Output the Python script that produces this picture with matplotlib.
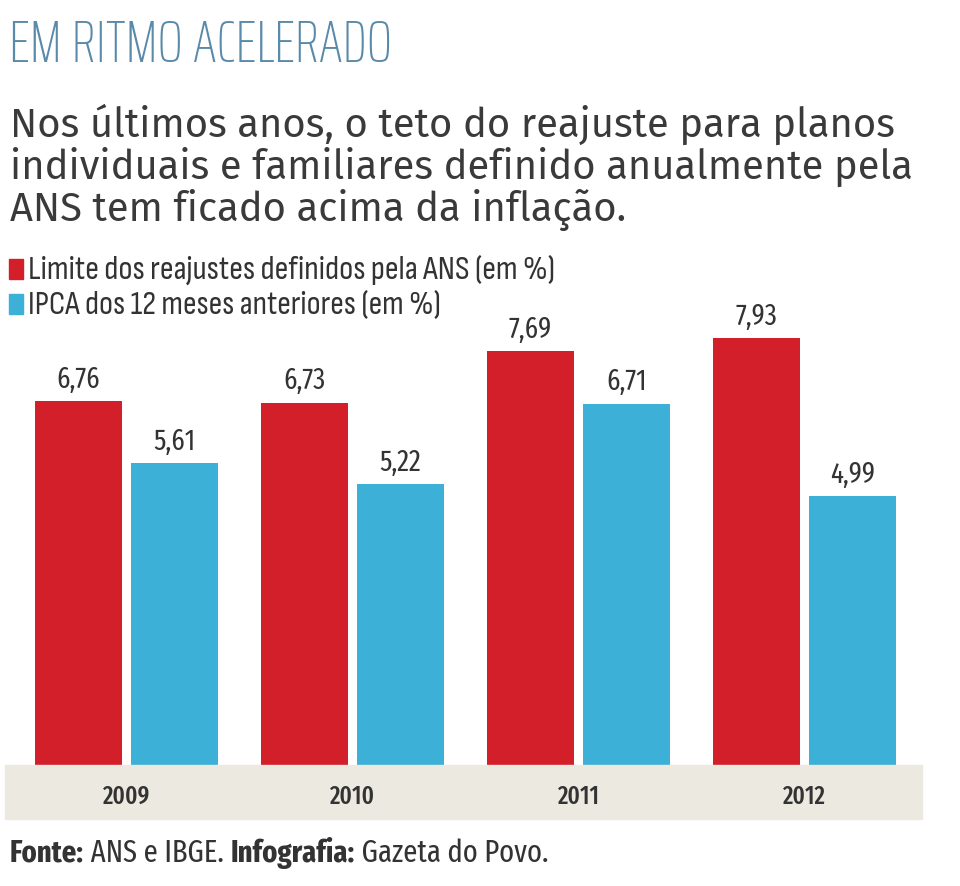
import matplotlib.pyplot as plt
from matplotlib.patches import Rectangle

anos = ["2009", "2010", "2011", "2012"]
ans = [6.76, 6.73, 7.69, 7.93]
ipca = [5.61, 5.22, 6.71, 4.99]
rotulos_ans = ["6,76", "6,73", "7,69", "7,93"]
rotulos_ipca = ["5,61", "5,22", "6,71", "4,99"]

vermelho = "#d31f29"
azul = "#3cb0d7"
cinza = "#333333"
titulo_f = ["Saira ExtraCondensed", "DejaVu Sans"]
estreita = ["Sofia Sans Condensed", "DejaVu Sans"]
numeros = ["Fira Sans Extra Condensed", "DejaVu Sans"]
texto = ["Fira Sans", "DejaVu Sans"]

fig = plt.figure(figsize=(9.6, 8.87), dpi=100)
W, H = 960, 887
renderer = fig.canvas.get_renderer()

def fx(px):
    return px / W

def fy(py):
    return 1 - py / H

def ajusta(t, largura):
    # acerta o tamanho da fonte para a largura medida no original
    bb = t.get_window_extent(renderer=renderer)
    t.set_fontsize(t.get_fontsize() * largura / bb.width)
    return t

# titulo e texto
t = fig.text(fx(9), fy(62), "EM RITMO ACELERADO", family=titulo_f, fontsize=46,
             weight="light", color="#5a8aaa", va="baseline", ha="left")
ajusta(t, 383)
sub = ["Nos últimos anos, o teto do reajuste para planos",
       "individuais e familiares definido anualmente pela",
       "ANS tem ficado acima da inflação."]
linhas = []
for i, linha in enumerate(sub):
    linhas.append(fig.text(fx(10), fy(137 + i * 42), linha, family=texto, fontsize=26,
                           color="#3a3a3a", va="baseline", ha="left"))
bb = linhas[1].get_window_extent(renderer=renderer)
tam = 26 * 905 / bb.width
for l in linhas:
    l.set_fontsize(tam)

# legenda
for py, cor, txt, larg in [(270, vermelho, "Limite dos reajustes definidos pela ANS (em %)", 527),
                           (305, azul, "IPCA dos 12 meses anteriores (em %)", 412)]:
    fig.patches.append(Rectangle((fx(9), fy(py + 10)), fx(14), 20 / H,
                                 transform=fig.transFigure, color=cor))
    t = fig.text(fx(28), fy(py), txt, family=estreita, fontsize=18, color=cinza,
                 va="center", ha="left")
    ajusta(t, larg)

# faixa bege dos anos
fig.patches.append(Rectangle((fx(5), fy(820)), fx(917), 54 / H,
                             transform=fig.transFigure, color="#ece9e1", zorder=0))

# eixo das barras
esq, dir_, topo, base = 5, 922, 320, 766
ax = fig.add_axes([fx(esq), fy(base), fx(dir_ - esq), (base - topo) / H])
ax.set_facecolor("none")
passo = 226.0
ax.set_xlim((esq - 126.5) / passo, (dir_ - 126.5) / passo)
ax.set_ylim(0, (base - topo) / 53.85)
x = list(range(len(anos)))
larg = 0.385
desl = 0.2125
b1 = ax.bar([i - desl for i in x], ans, width=larg, color=vermelho)
b2 = ax.bar([i + desl for i in x], ipca, width=larg, color=azul)
for barras, rot in [(b1, rotulos_ans), (b2, rotulos_ipca)]:
    for b, r in zip(barras, rot):
        ax.annotate(r, (b.get_x() + b.get_width() / 2, b.get_height()),
                    xytext=(0, 6), textcoords="offset points", ha="center",
                    va="bottom", family=numeros, fontsize=21, color=cinza)
ax.set_xticks([])
ax.set_yticks([])
for s in ax.spines.values():
    s.set_visible(False)

for i, ano in enumerate(anos):
    xp = 126.5 + i * passo
    fig.text(fx(xp), fy(797), ano, family=numeros, fontsize=18, color=cinza,
             weight="medium", ha="center", va="center")

# fonte
partes = [("Fonte:", "bold"), (" ANS e IBGE. ", "normal"),
          ("Infografia:", "bold"), (" Gazeta do Povo.", "normal")]
objs = []
xp = fx(10)
for txt, peso in partes:
    t = fig.text(xp, fy(853), txt, family=numeros, fontsize=18, color=cinza,
                 weight=peso, ha="left", va="center")
    objs.append(t)
    xp += t.get_window_extent(renderer=renderer).width / W
escala = 538 / ((xp - fx(10)) * W)
xp = fx(10)
for t in objs:
    t.set_fontsize(18 * escala)
    t.set_x(xp)
    xp += t.get_window_extent(renderer=renderer).width / W

fig.savefig("out.png", dpi=100)
